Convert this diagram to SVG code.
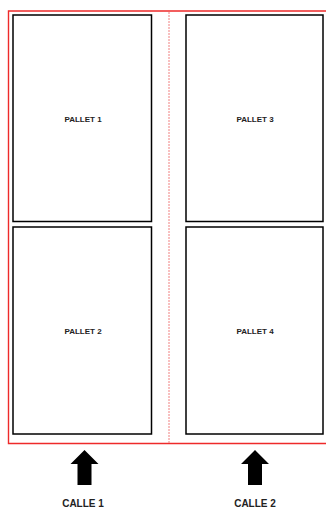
<svg xmlns="http://www.w3.org/2000/svg" width="326" height="509" viewBox="0 0 326 509">
<style>
.box{fill:#fff;stroke:#000;stroke-width:1.5}
.lbl{font-family:"Liberation Sans",Arial,sans-serif;font-weight:bold;font-size:8px;fill:#222;text-anchor:middle}
.calle{font-family:"Liberation Sans",Arial,sans-serif;font-weight:bold;font-size:10px;fill:#222;text-anchor:middle}
.arrow{fill:#000}
</style>
<rect width="326" height="509" fill="#fff"/>
<g id="frame">
<path d="M327 11 H8.5 V443.5 H327" fill="none" stroke="#ee2a2a" stroke-width="1.4"/>
<line x1="169" y1="12" x2="169" y2="443" stroke="#f08080" stroke-width="1" stroke-dasharray="2,1"/>
</g>
<g id="pallet1"><rect class="box" x="13" y="15" width="138.5" height="206.5"/><text class="lbl" x="83" y="122">PALLET 1</text></g>
<g id="pallet2"><rect class="box" x="13" y="227" width="138.5" height="207"/><text class="lbl" x="83" y="334">PALLET 2</text></g>
<g id="pallet3"><rect class="box" x="186" y="15" width="137" height="206.5"/><text class="lbl" x="255" y="122">PALLET 3</text></g>
<g id="pallet4"><rect class="box" x="186" y="227" width="137" height="207"/><text class="lbl" x="255" y="334">PALLET 4</text></g>
<g id="connectors">
<polygon class="arrow" points="84.5,450 98.5,464 91.5,464 91.5,485 77.5,485 77.5,464 70.5,464"/>
<polygon class="arrow" points="255,450 269,464 262,464 262,485 248,485 248,464 241,464"/>
</g>
<g id="calle1"><text class="calle" x="83" y="507">CALLE 1</text></g>
<g id="calle2"><text class="calle" x="255" y="507">CALLE 2</text></g>
</svg>
